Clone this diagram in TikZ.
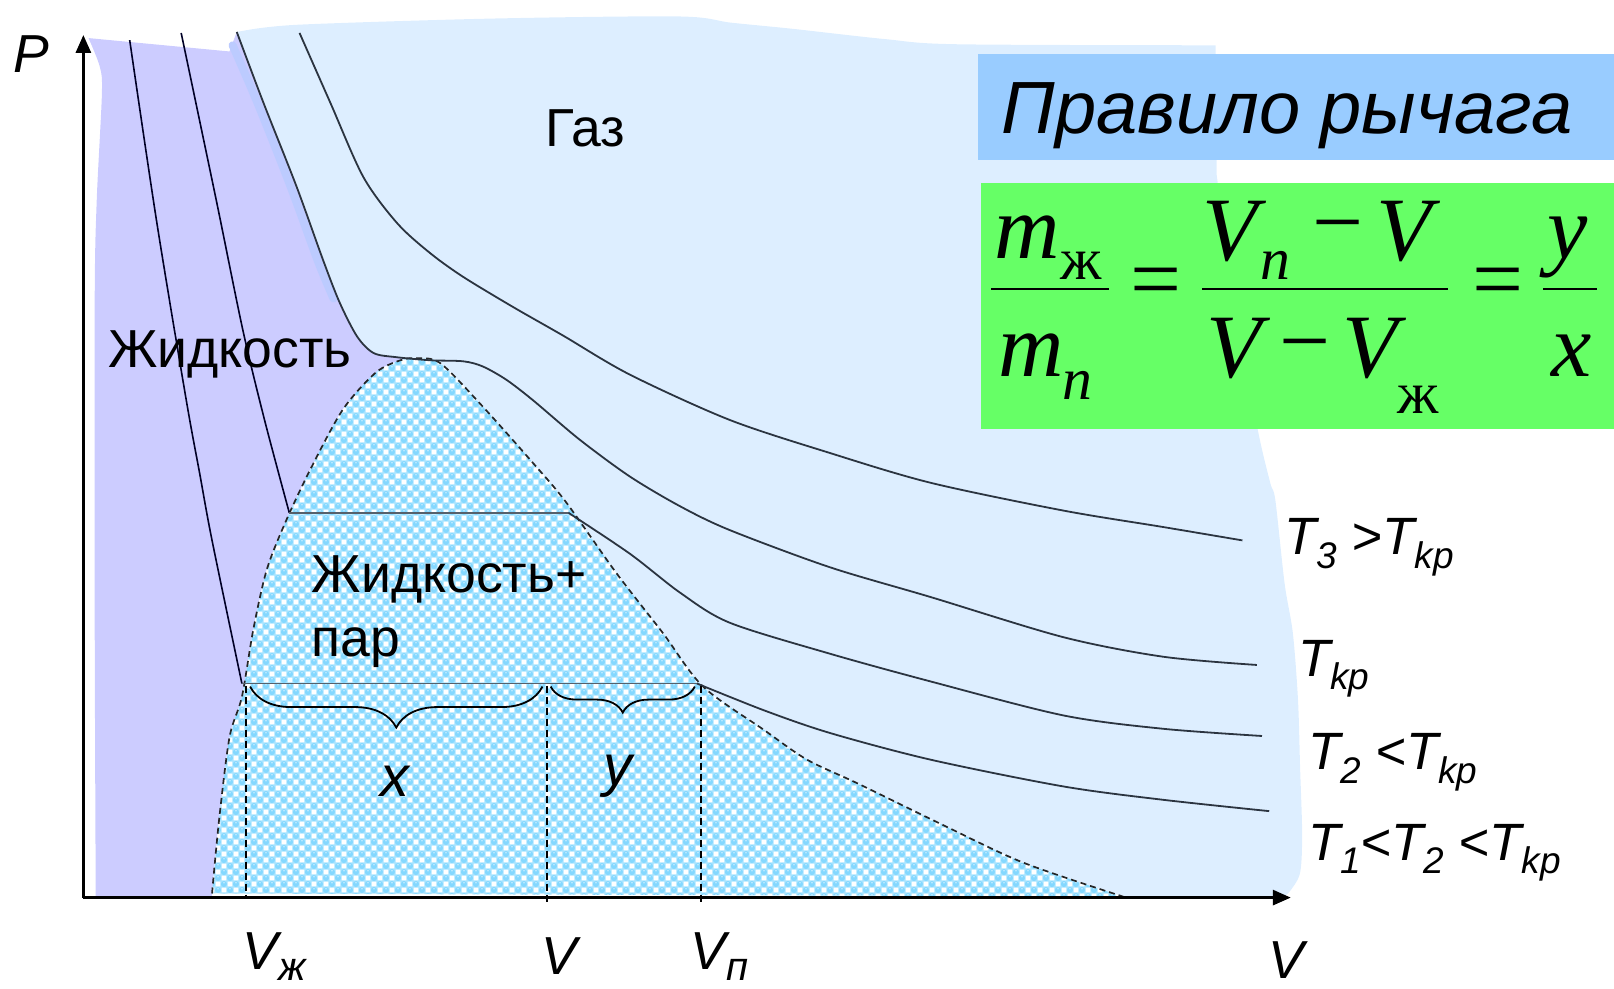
\documentclass[tikz,border=0pt]{standalone}
\usepackage{fontspec}
\setmainfont{Liberation Sans}
\newfontfamily\tnr{Liberation Serif}
\usetikzlibrary{arrows.meta,decorations.pathreplacing,patterns.meta}
\definecolor{gasc}{HTML}{DDEEFF}
\definecolor{liqc}{HTML}{CCCCFF}
\definecolor{stripc}{HTML}{BCCBFF}
\definecolor{titlec}{HTML}{99CCFF}
\definecolor{greenc}{HTML}{66FF66}
\definecolor{bubc}{HTML}{84D8FF}
\definecolor{bubbase}{HTML}{A8E4FF}
\definecolor{isoc}{HTML}{2B3440}
\definecolor{platc}{HTML}{56606A}
\newcommand{\setfs}[1]{\fontsize{#1bp}{#1bp}\selectfont}
\newcommand{\lsub}[1]{\raisebox{-13.4bp}{\setfs{37}#1}}
\newcommand{\vsub}[1]{\raisebox{-11bp}{\setfs{40}#1}}
\tikzdeclarepattern{
  name=bubbles,
  type=colored,
  bottom left={(0pt,0pt)},
  top right={(12pt,12pt)},
  tile size={(12pt,12pt)},
  code={
    \fill[bubbase] (0pt,0pt) rectangle (12pt,12pt);
    \fill[white] (6.6pt,0.6pt) rectangle (11.4pt,5.4pt);
    \fill[white] (0.6pt,6.6pt) rectangle (5.4pt,11.4pt);
    \fill[bubc] (3pt,3pt) circle[radius=3pt];
    \fill[bubc] (9pt,9pt) circle[radius=3pt];
    \fill[white!55!bubc] (3pt,4.3pt) circle[radius=0.9pt];
    \fill[white!55!bubc] (9pt,10.3pt) circle[radius=0.9pt];
  }
}
\tikzset{
  iso/.style={draw=isoc, line width=1.8bp},
  liqline/.style={draw=black!85!blue, line width=1.6bp},
  plat/.style={draw=platc, line width=1.8bp},
  vdash/.style={draw=black, line width=2bp, dash pattern=on 7bp off 4bp},
  domedash/.style={draw=black!85, line width=1.7bp, dash pattern=on 6bp off 4bp},
  axisline/.style={draw=black, line width=3bp, -{Triangle[length=18bp,width=15bp]}},
  lbl/.style={inner sep=0pt, outer sep=0pt, anchor=base west, font={\setfs{53.5}}},
  ilbl/.style={lbl, font={\setfs{53.5}\itshape}},
  tlbl/.style={lbl, font={\setfs{52.5}\itshape}},
  fml/.style={inner sep=0pt, anchor=base west, font={\tnr\setfs{90.6}\itshape}},
  fsub/.style={inner sep=0pt, anchor=base west, font={\tnr\setfs{59.7}}},
  fisub/.style={inner sep=0pt, anchor=base west, font={\tnr\setfs{59.7}\itshape}},
  fop/.style={inner sep=0pt, anchor=center, font={\tnr\setfs{90.6}}},
  fline/.style={draw=black, line width=2.2bp},
  bracestyle/.style={draw=black, line width=1.8bp, decorate},
}
\begin{document}
\begin{tikzpicture}[x=1.0293bp, y=-1.0293bp]
\useasboundingbox (0,0) rectangle (1568,960);
% gas region
\fill[gasc] (230,31)
  -- plot[smooth] coordinates {(236,30) (290,24) (480,18) (660,16) (710,22) (770,28) (860,38) (930,43) (1181,44)}
  -- (1182,170)
  -- plot[smooth] coordinates {(1182,170) (1200,300) (1222,418) (1234,469) (1239,486) (1248,567) (1256,615) (1261,680) (1263,745) (1265,810) (1263,848) (1253,866) (1247,871)}
  -- (1091,871)
  -- plot[smooth] coordinates {(1091,871) (994,838) (913,800) (833,761) (784,738) (742,709) (683,667) (644,615) (599,557) (550,488) (518,450) (469,395) (428,353) (405,348)}
  -- plot[smooth] coordinates {(385,347) (363,343) (347,327) (330,294) (314,253) (288,181) (256,100) (230,31)}
  -- cycle;
% liquid region
\fill[liqc] (86,37) -- (223,50) -- (230,31)
  -- plot[smooth] coordinates {(230,31) (256,100) (288,181) (314,253) (330,294) (347,327) (363,343) (385,347) (405,348)}
  -- plot[smooth] coordinates {(405,348) (389,350) (365,362) (333,398) (301,457) (277,508) (259,554) (246,612) (235,677) (223,716) (213,795) (206,868)}
  -- (206,871) -- (93,871)
  -- plot[smooth] coordinates {(93,871) (92,600) (92,291) (94,194) (99,91) (97,65) (86,37)}
  -- cycle;
\draw[stripc, line width=8bp, line cap=round] plot[smooth] coordinates {(226,44) (251,102) (283,183) (309,254) (324,290)};
% two-phase dome
\fill[pattern=bubbles] plot[smooth] coordinates {(206,868) (213,795) (223,716) (235,677) (246,612) (259,554) (277,508) (301,457) (333,398) (365,362) (389,350) (405,348) (428,353) (469,395) (518,450) (550,488) (599,557) (644,615) (683,667) (742,709) (784,738) (833,761) (913,800) (994,838) (1091,871)} -- (206,868) -- cycle;
\draw[domedash] plot[smooth] coordinates {(206,868) (213,795) (223,716) (235,677) (246,612) (259,554) (277,508) (301,457) (333,398) (365,362) (389,350) (405,348) (428,353) (469,395) (518,450) (550,488) (599,557) (644,615) (683,667) (742,709) (784,738) (833,761) (913,800) (994,838) (1091,871)};
% isotherms
\draw[liqline] plot[smooth] coordinates {(126,39) (152,214) (181,389) (194,460) (206,525) (235,664)};
\draw[liqline] plot[smooth] coordinates {(176,32) (210,194) (236,321) (257,408) (281,498)};
\draw[iso] plot[smooth] coordinates {(230,31) (256,100) (288,181) (314,253) (330,294) (347,327) (363,343) (385,347) (418,350) (450,351) (469,356) (492,369) (518,389) (563,427) (612,463) (661,492) (709,515) (806,551) (904,580) (1033,619) (1130,638) (1221,646)};
\draw[iso] plot[smooth] coordinates {(291,32) (321,100) (353,172) (386,217) (418,246) (450,269) (498,298) (547,326) (612,364) (709,408) (806,440) (904,469) (1033,496) (1130,512) (1207,525)};
\draw[iso] plot[smooth] coordinates {(552,498) (612,538) (661,576) (709,605) (806,635) (904,662) (1033,695) (1130,708) (1226,715)};
\draw[iso] plot[smooth] coordinates {(677,664) (742,690) (806,712) (904,738) (1033,764) (1130,777) (1233,788)};
% plateaus
\coordinate (p2l) at (281,498);
\coordinate (p2r) at (552,498);
\coordinate (p1l) at (235,664);
\coordinate (p1r) at (677,664);
\draw[plat] (p2l) -- (p2r);
\draw[plat] (p1l) -- (p1r);
% dashed verticals
\coordinate (vzt) at (239,666); \coordinate (vzb) at (239,871);
\coordinate (vt) at (531,666);  \coordinate (vb) at (531,876);
\coordinate (vnt) at (681,666); \coordinate (vnb) at (681,879);
\draw[vdash] (vzt) -- (vzb);
\draw[vdash] (vt) -- (vb);
\draw[vdash] (vnt) -- (vnb);
% braces
\coordinate (bxl) at (243,667); \coordinate (bxr) at (527,667);
\coordinate (byl) at (535,667); \coordinate (byr) at (675,667);
\draw[bracestyle, decoration={brace, amplitude=41bp, mirror}] (bxl) -- (bxr);
\draw[bracestyle, decoration={brace, amplitude=26bp, mirror}] (byl) -- (byr);
% axes
\coordinate (O) at (81,872);
\coordinate (Ytip) at (81,34);
\coordinate (Xtip) at (1254,872);
\draw[axisline] (O) -- (Ytip);
\draw[axisline] (O) -- (Xtip);
% labels
\node[lbl] (gas) at (530,142) {Газ};
\node[lbl] (liq) at (105,357) {Жидкость};
\node[lbl] (mixa) at (303,576) {Жидкость+};
\node[lbl] (mixb) at (303,638) {пар};
\node[ilbl] (plab) at (13,70) {P};
\node[ilbl] (vlab) at (1232,951) {V};
\node[ilbl] (vzh) at (236,942) {V\vsub{ж}};
\node[ilbl] (vmid) at (526,947) {V};
\node[ilbl] (vn) at (671,942) {V\vsub{п}};
\node[lbl, font={\setfs{57.6}\itshape}] (xl) at (370,774) {x};
\node[lbl, font={\setfs{57.6}\itshape}] (yl) at (586,763) {y};
\node[tlbl] (t3) at (1248,539) {T\lsub{3} >T\lsub{kp}};
\node[tlbl] (tkp) at (1261,657) {T\lsub{kp}};
\node[tlbl] (t2) at (1271,748) {T\lsub{2} <T\lsub{kp}};
\node[tlbl] (t1) at (1271,836) {T\lsub{1}<T\lsub{2} <T\lsub{kp}};
% title box
\fill[titlec] (950,52) rectangle (1568,155);
\node[lbl, font={\setfs{74}\itshape}] (title) at (973,130) {Правило рычага};
% formula box
\fill[greenc] (953,178) rectangle (1568,417);
\node[fml] (m1) at (966,251) {m};
\node[fsub] (m1s) at (1030,272) {ж};
\coordinate (f1l) at (963,281); \coordinate (f1r) at (1077,281);
\draw[fline] (f1l) -- (f1r);
\node[fml] (m2) at (970,366) {m};
\node[fisub] (m2s) at (1032,388) {n};
\node[fop] (eq1) at (1123,281) {=};
\node[fml] (v1) at (1168,253) {V};
\node[fisub] (v1s) at (1224,272) {n};
\node[fop] (mi1) at (1300,230) {−};
\node[fml] (v2) at (1337,253) {V};
\coordinate (f2l) at (1168,281); \coordinate (f2r) at (1407,281);
\draw[fline] (f2l) -- (f2r);
\node[fml] (v3) at (1172,367) {V};
\node[fop] (mi2) at (1268,345) {−};
\node[fml] (v4) at (1304,367) {V};
\node[fsub] (v4s) at (1357,402) {ж};
\node[fop] (eq2) at (1455,281) {=};
\coordinate (f3l) at (1499,281); \coordinate (f3r) at (1551,281);
\draw[fline] (f3l) -- (f3r);
\node[fml] (yy) at (1503,251) {y};
\node[fml] (xx) at (1507,366) {x};
\end{tikzpicture}
\end{document}
